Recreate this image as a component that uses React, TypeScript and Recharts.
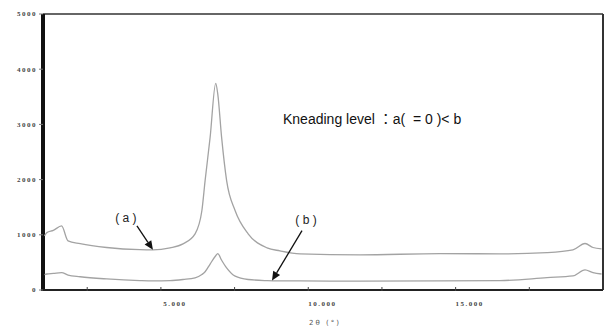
import { LineChart, Line, XAxis, YAxis, ReferenceDot, ReferenceArea } from 'recharts'

// 2θ (deg) sample positions and intensities
const twoTheta = [
  1.05, 1.13, 1.35, 1.63, 1.85, 2.26, 3.16, 4.29, 4.73, 5.31, 5.75, 6.16, 6.39, 6.5, 6.67, 6.86, 6.93,
  7.06, 7.23, 7.52, 7.96, 8.6, 9.04, 9.72, 11.76, 14.47, 16.5, 18.1, 18.98, 19.39, 19.66, 19.95,
]
const curveA = [
  980, 1040, 1080, 1160, 890, 840, 770, 730, 727, 764, 836, 1018, 1436, 1982, 2764, 3745, 3550,
  2764, 1982, 1436, 1018, 764, 709, 655, 636, 660, 655, 678, 727, 842, 770, 745,
]
const curveB = [
  280, 290, 300, 315, 270, 240, 200, 170, 165, 170, 190, 220, 280, 330, 470, 620, 660,
  540, 400, 250, 190, 170, 165, 165, 160, 164, 170, 224, 255, 364, 315, 290,
]
const yTicks = [0, 1000, 2000, 3000, 4000, 5000]
const xTicks = [2.5, 5, 7.5, 10, 12.5, 15, 17.5]
const xLabels: Record<number, string> = { 5: '5.000', 10: '10.000', 15: '15.000' }

const data = twoTheta.map((t, i) => ({ t, a: curveA[i], b: curveB[i] }))

const XTick = ({ x, y, payload }: any) => (
  <g>
    <line x1={x} x2={x} y1={y - 5} y2={y - 1} stroke="#444" />
    {xLabels[payload.value] && (
      <text x={x + 14} y={y + 14} textAnchor="middle" fontSize={7} fill="#444" letterSpacing={1.5} fontWeight="bold">
        {xLabels[payload.value]}
      </text>
    )}
  </g>
)

// plot frame: thick left edge, thinner top/right
const Frame = ({ x, y, width, height }: any) => (
  <g>
    <line x1={x} x2={x + width} y1={y} y2={y} stroke="#333" strokeWidth={1.5} />
    <line x1={x + width} x2={x + width} y1={y} y2={y + height} stroke="#333" strokeWidth={2} />
    <line x1={x} x2={x} y1={y} y2={y + height + 1} stroke="#111" strokeWidth={4} />
  </g>
)

const Arrow = ({ cx, cy, dx, dy, tx, ty, text }: any) => {
  const len = Math.hypot(dx, dy)
  const ux = -dx / len
  const uy = -dy / len
  const px = -uy
  const py = ux
  const hx = cx - ux * 9
  const hy = cy - uy * 9
  return (
    <g>
      <line x1={cx + dx} y1={cy + dy} x2={hx} y2={hy} stroke="#111" strokeWidth={1.3} />
      <polygon
        points={`${cx},${cy} ${hx + px * 4},${hy + py * 4} ${hx - px * 4},${hy - py * 4}`}
        fill="#111"
      />
      <text x={cx + tx} y={cy + ty} textAnchor="middle" fontSize={12} fill="#222" fontFamily="Liberation Sans, Arial">
        {text}
      </text>
    </g>
  )
}

export default function App() {
  return (
    <div style={{ position: 'absolute', left: 0, top: 0, width: 607, height: 334, background: '#fff' }}>
      <LineChart width={607} height={334} data={data} margin={{ top: 14, right: 4, left: 0, bottom: 24 }}>
        <XAxis
          dataKey="t"
          type="number"
          domain={[1, 20]}
          ticks={xTicks}
          tick={<XTick />}
          tickLine={false}
          tickSize={0}
          height={20}
          axisLine={{ stroke: '#222', strokeWidth: 2 }}
        />
        <YAxis
          type="number"
          domain={[0, 5000]}
          ticks={yTicks}
          width={43}
          tickSize={4}
          tickLine={{ stroke: '#777' }}
          axisLine={false}
          tick={{ fontSize: 7, fill: '#444', letterSpacing: 1.5, fontWeight: 'bold' }}
        />
        <ReferenceArea x1={1} x2={20} y1={0} y2={5000} shape={<Frame />} ifOverflow="visible" />
        <Line dataKey="a" type="monotone" stroke="#a3a3a3" strokeWidth={1.3} dot={false} isAnimationActive={false} />
        <Line dataKey="b" type="monotone" stroke="#a3a3a3" strokeWidth={1.3} dot={false} isAnimationActive={false} />
        <ReferenceDot
          x={4.73}
          y={727}
          shape={(p: any) => <Arrow {...p} dx={-16} dy={-24} tx={-27} ty={-28} text="( a )" />}
        />
        <ReferenceDot
          x={8.77}
          y={170}
          shape={(p: any) => <Arrow {...p} dx={30} dy={-50} tx={34} ty={-57} text="( b )" />}
        />
      </LineChart>
      <div
        style={{
          position: 'absolute',
          left: 283,
          top: 108,
          fontSize: 14,
          fontFamily: 'Liberation Sans, Arial, "Noto Sans CJK JP", sans-serif',
          color: '#111',
          whiteSpace: 'pre',
        }}
      >
        {'Kneading level ：a(  = 0 )< b'}
      </div>
      <div
        style={{
          position: 'absolute',
          left: 300,
          top: 319,
          width: 50,
          textAlign: 'center',
          fontSize: 7,
          color: '#555',
          letterSpacing: 2,
          fontFamily: 'DejaVu Sans, sans-serif',
        }}
      >
        2θ (°)
      </div>
    </div>
  )
}
